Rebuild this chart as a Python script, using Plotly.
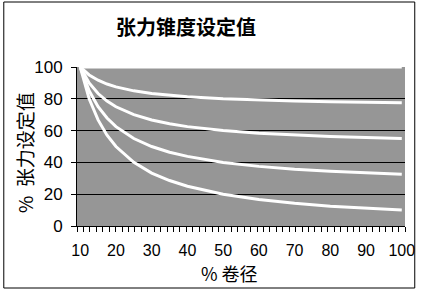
import plotly.graph_objects as go

# Data (% winding diameter vs % tension setting)
diameter = [10, 12.5, 15, 17.5, 20, 25, 30, 35, 40, 50, 60, 70, 80, 90, 100]
taper_0 = [100] * 15
taper_25 = [100, 95, 91.7, 89.3, 87.5, 85, 83.3, 82.1, 81.3, 80, 79.2, 78.6, 78.1, 77.8, 77.5]
taper_50 = [100, 90, 83.3, 78.6, 75, 70, 66.7, 64.3, 62.5, 60, 58.3, 57.1, 56.3, 55.6, 55]
taper_75 = [100, 85, 75, 67.9, 62.5, 55, 50, 46.4, 43.8, 40, 37.5, 35.7, 34.4, 33.3, 32.5]
taper_100 = [100, 80, 66.7, 57.1, 50, 40, 33.3, 28.6, 25, 20, 16.7, 14.3, 12.5, 11.1, 10]
x_ticks = [10, 20, 30, 40, 50, 60, 70, 80, 90, 100]
y_ticks = [0, 20, 40, 60, 80, 100]

title_text = "张力锥度设定值"
x_title = "% 卷径"
y_title = "%  张力设定值"

fig = go.Figure()
for ys in [taper_0, taper_25, taper_50, taper_75, taper_100]:
    fig.add_trace(go.Scatter(x=diameter, y=ys, mode="lines",
                             line=dict(color="white", width=3),
                             hoverinfo="skip", showlegend=False))

L, R, T, B = 77, 14, 67, 68
W, H = 427, 294
pw, ph = W - L - R, H - T - B

def px(x):
    return (x - L) / pw

def py(y):
    return (H - B - y) / ph

cjk = "Noto Sans CJK SC"

fig.update_layout(
    width=W, height=H,
    margin=dict(l=L, r=R, t=T, b=B),
    paper_bgcolor="white",
    plot_bgcolor="#969696",
    showlegend=False,
    xaxis=dict(range=[9.1, 100.9], tickvals=x_ticks, ticks="",
               showline=True, linecolor="black", linewidth=1,
               showgrid=False, zeroline=False,
               tickfont=dict(family="Liberation Sans, Arial", size=16, color="black"),
               ticklabelstandoff=10,
               minor=dict(tick0=9.1, dtick=1.8, ticks="outside", ticklen=5,
                          tickcolor="black", showgrid=False)),
    yaxis=dict(range=[0, 100], tickvals=y_ticks, ticks="outside", ticklen=5,
               tickcolor="black", showline=True, linecolor="black", linewidth=1,
               showgrid=True, gridcolor="black", gridwidth=1, zeroline=False,
               tickfont=dict(family="Liberation Sans, Arial", size=17, color="black"),
               ticklabelstandoff=5),
    shapes=[dict(type="rect", xref="paper", yref="paper",
                 x0=px(2), x1=px(423), y0=py(288), y1=py(2),
                 line=dict(color="black", width=1), fillcolor="rgba(0,0,0,0)",
                 layer="above")],
    annotations=[
        dict(text="<b>" + title_text + "</b>", x=px(188.5), y=py(26), xref="paper", yref="paper",
             showarrow=False, font=dict(family=cjk, size=20, color="black"),
             xanchor="center", yanchor="middle"),
        dict(text=y_title, x=px(23), y=py(153), xref="paper", yref="paper",
             showarrow=False, textangle=-90, font=dict(family=cjk, size=19, color="black"),
             xanchor="center", yanchor="middle"),
        dict(text=x_title, x=px(233.5), y=py(273), xref="paper", yref="paper",
             showarrow=False, font=dict(family=cjk, size=18, color="black"),
             xanchor="center", yanchor="middle"),
    ],
)

fig.write_html("out.html")
